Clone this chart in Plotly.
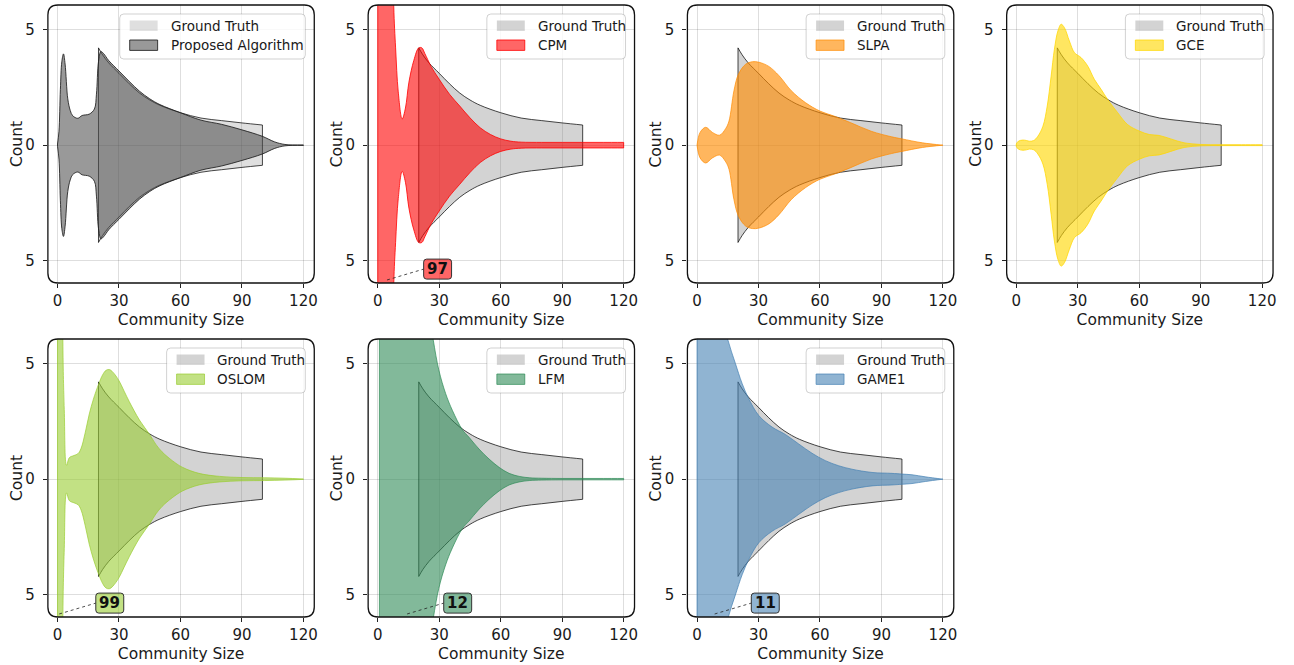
import plotly.graph_objects as go

# ---------------------------------------------------------------------------
# Community-size distributions: violin half-widths (counts) along community size
# ---------------------------------------------------------------------------
gt_x = [20, 22, 25, 30, 35, 40, 45, 50, 60, 70, 80, 90, 100]
gt_w = [4.2, 3.9, 3.55, 3.1, 2.65, 2.25, 1.95, 1.72, 1.4, 1.17, 1.06, 0.96, 0.87]

proposed_x = [0, 0.7, 1.4, 2.1, 2.9, 3.7, 5, 6.2, 7.4, 9.9, 12, 15.5, 18, 19, 20, 21.2,
              22.5, 25, 30, 35, 40, 45, 50, 60, 70, 80, 90, 100, 106, 111, 120]
proposed_w = [0.05, 0.6, 2.4, 3.6, 3.94, 3.5, 2.0, 1.5, 1.27, 1.16, 1.28, 1.34, 1.56, 2.2, 3.6, 4.04,
              3.95, 3.65, 3.2, 2.75, 2.33, 2.0, 1.75, 1.4, 1.08, 0.9, 0.66, 0.38, 0.14, 0.03, 0.01]

cpm_x = [0, 2.2, 4.5, 6.6, 7.8, 8.7, 10, 11.9, 13.5, 15.2, 17.6, 20, 21.5, 23, 26, 30, 35,
         40, 45, 50, 55, 60, 65, 70, 80, 90, 100, 110, 120]
cpm_w = [55, 85, 97, 14, 6.0, 4.2, 2.3, 1.13, 1.6, 2.72, 3.66, 4.2, 4.2, 3.95, 3.4, 2.84, 2.2,
         1.69, 1.18, 0.75, 0.46, 0.27, 0.17, 0.13, 0.12, 0.12, 0.12, 0.12, 0.12]

slpa_x = [0, 1.5, 4.2, 7.5, 11, 14, 15.6, 18, 20.2, 23.7, 27, 30.2, 35, 40, 46, 53, 60, 67,
          75, 85, 95, 100, 110, 120]
slpa_w = [0, 0.55, 0.77, 0.55, 0.43, 0.72, 1.04, 2.34, 3.06, 3.49, 3.6, 3.58, 3.4, 3.0, 2.35,
          1.83, 1.47, 1.25, 0.97, 0.6, 0.36, 0.27, 0.1, 0]

gce_x = [0, 1, 3.2, 5, 6.5, 8.5, 10.5, 13, 15.1, 17, 18.6, 20.3, 21.9, 23.5, 25.9, 28.4, 31.6,
         34.9, 38.1, 41.4, 44.6, 49.5, 54.3, 60, 64.9, 69.7, 75.4, 81.9, 90, 100, 110, 120]
gce_w = [0.05, 0.17, 0.22, 0.2, 0.17, 0.2, 0.38, 0.82, 1.69, 2.98, 4.14, 4.93, 5.22, 5.07, 4.5,
         3.99, 3.78, 3.41, 2.84, 2.41, 1.97, 1.4, 0.89, 0.61, 0.46, 0.42, 0.27, 0.1, 0.03, 0.02,
         0.02, 0.02]

oslom_x = [0, 0.8, 1.8, 2.6, 3.3, 4.4, 5.8, 8, 10, 11.5, 13.5, 15.5, 17.5, 20.1, 22, 23.7,
           25.3, 27, 30, 32.5, 35, 40, 45, 48, 51, 56, 61, 69, 79, 90, 101, 111, 120]
oslom_w = [45, 99, 30, 6.0, 3.0, 0.6, 0.93, 1.02, 1.1, 1.33, 2.0, 2.81, 3.45, 4.11, 4.5, 4.7,
           4.73, 4.62, 4.25, 3.8, 3.35, 2.55, 1.92, 1.5, 1.18, 0.8, 0.51, 0.25, 0.12, 0.07,
           0.06, 0.04, 0.01]

lfm_x = [0.8, 3, 6, 10, 14.3, 18, 22, 25, 27.1, 29.8, 33.1, 36.4, 41.3, 44.5, 49.4, 54.3,
         59.2, 64.1, 69, 73.9, 80, 90, 100, 110, 120]
lfm_w = [6.3, 8.5, 10.5, 11.7, 12, 11.2, 9.0, 7.3, 6.0, 4.71, 3.7, 2.97, 2.13, 1.81, 1.3,
         0.87, 0.51, 0.25, 0.12, 0.06, 0.04, 0.03, 0.03, 0.03, 0.03]

game1_x = [0, 4, 8.6, 10.5, 12.7, 15.1, 18.7, 22, 25.2, 30.1, 36.6, 43.1, 49.6, 56.1, 62.6,
           69.1, 75.6, 85.4, 95.1, 100, 104.9, 111.4, 120]
game1_w = [9.0, 10.5, 11, 9.4, 7.0, 6.0, 5.0, 4.13, 3.48, 2.75, 2.25, 1.93, 1.52, 1.12, 0.8,
           0.58, 0.43, 0.29, 0.25, 0.22, 0.19, 0.1, 0]

algorithm_names = ["Proposed Algorithm", "CPM", "SLPA", "GCE", "OSLOM", "LFM", "GAME1"]
gt_label = "Ground Truth"
x_ticks = [0, 30, 60, 90, 120]
y_ticks = [-5, 0, 5]
y_tick_text = ["5", "0", "5"]
x_title = "Community Size"
y_title = "Count"

# ---------------------------------------------------------------------------
# Styling and layout
# ---------------------------------------------------------------------------
W, H = 1294, 665
FONT = "DejaVu Sans"
TXT = "#1a1a1a"

profiles = [(proposed_x, proposed_w), (cpm_x, cpm_w), (slpa_x, slpa_w), (gce_x, gce_w),
            (oslom_x, oslom_w), (lfm_x, lfm_w), (game1_x, game1_w)]

def rgba(rgb, a):
    return f"rgba({rgb[0]},{rgb[1]},{rgb[2]},{a})"

styles = [
    dict(fill=rgba((80, 80, 80), 0.58), edge=rgba((30, 30, 30), 0.85), gt=rgba((128, 128, 128), 0.25)),
    dict(fill=rgba((255, 0, 0), 0.6), edge=rgba((255, 0, 0), 0.8), gt=rgba((128, 128, 128), 0.35)),
    dict(fill=rgba((255, 140, 0), 0.63), edge=rgba((255, 140, 0), 0.7), gt=rgba((128, 128, 128), 0.35)),
    dict(fill=rgba((255, 215, 0), 0.62), edge=rgba((255, 215, 0), 0.75), gt=rgba((128, 128, 128), 0.35)),
    dict(fill=rgba((154, 205, 50), 0.6), edge=rgba((154, 205, 50), 0.7), gt=rgba((128, 128, 128), 0.35)),
    dict(fill=rgba((46, 139, 87), 0.6), edge=rgba((46, 139, 87), 0.7), gt=rgba((128, 128, 128), 0.35)),
    dict(fill=rgba((70, 130, 180), 0.6), edge=rgba((70, 130, 180), 0.7), gt=rgba((128, 128, 128), 0.35)),
]

col_left = [48, 369, 689, 1009]
row_top = [5, 339]
PW, PH = 267, 278
X_RANGE = [-4.7, 125.3]
Y_RANGE = [-5.95, 6.05]

def panel_box(i):
    r, c = divmod(i, 4)
    return col_left[c], row_top[r], col_left[c] + PW, row_top[r] + PH

def px_x(i, x):
    x0, _, _, _ = panel_box(i)
    return x0 + (x - X_RANGE[0]) / (X_RANGE[1] - X_RANGE[0]) * PW

def px_y(i, y):
    _, y0, _, _ = panel_box(i)
    return y0 + (Y_RANGE[1] - y) / (Y_RANGE[1] - Y_RANGE[0]) * PH

def PX(p):
    return p / W

def PY(p):
    return 1 - p / H

def rounded_path(x0, y0, x1, y1, r):
    return (f"M {PX(x0 + r)},{PY(y0)} L {PX(x1 - r)},{PY(y0)} Q {PX(x1)},{PY(y0)} {PX(x1)},{PY(y0 + r)} "
            f"L {PX(x1)},{PY(y1 - r)} Q {PX(x1)},{PY(y1)} {PX(x1 - r)},{PY(y1)} "
            f"L {PX(x0 + r)},{PY(y1)} Q {PX(x0)},{PY(y1)} {PX(x0)},{PY(y1 - r)} "
            f"L {PX(x0)},{PY(y0 + r)} Q {PX(x0)},{PY(y0)} {PX(x0 + r)},{PY(y0)} Z")

fig = go.Figure()
shapes = []
annotations = []
layout_axes = {}

def add_violin(xs, ws, n, fill, edge, lw):
    ax = dict(xaxis=f"x{n}", yaxis=f"y{n}", hoverinfo="skip", showlegend=False)
    fig.add_trace(go.Scatter(x=xs, y=[-w for w in ws], mode="lines",
                             line=dict(shape="spline", color=edge, width=lw), **ax))
    fig.add_trace(go.Scatter(x=xs, y=ws, mode="lines", fill="tonexty", fillcolor=fill,
                             line=dict(shape="spline", color=edge, width=lw), **ax))
    fig.add_trace(go.Scatter(x=[xs[0], xs[0], None, xs[-1], xs[-1]],
                             y=[-ws[0], ws[0], None, -ws[-1], ws[-1]], mode="lines",
                             line=dict(color=edge, width=lw), **ax))

for i, (name, (xs, ws), st) in enumerate(zip(algorithm_names, profiles, styles)):
    n = i + 1
    x0, y0, x1, y1 = panel_box(i)

    add_violin(gt_x, gt_w, n, st["gt"], "rgba(0,0,0,0.9)", 0.8)
    add_violin(xs, ws, n, st["fill"], st["edge"], 1.0)

    common = dict(showgrid=True, gridcolor="rgba(0,0,0,0.13)", gridwidth=1, zeroline=False,
                  showline=False, ticks="outside", ticklen=4, tickwidth=1, tickcolor="#222",
                  tickfont=dict(family=FONT, size=15, color=TXT), fixedrange=True)
    layout_axes[f"xaxis{n}"] = dict(
        domain=[PX(x0), PX(x1)], anchor=f"y{n}", range=X_RANGE, tickvals=x_ticks,
        title=dict(text=x_title, font=dict(family=FONT, size=15.5, color=TXT), standoff=5),
        ticklabelstandoff=0, **common)
    layout_axes[f"yaxis{n}"] = dict(
        domain=[PY(y1), PY(y0)], anchor=f"x{n}", range=Y_RANGE, tickvals=y_ticks,
        ticktext=y_tick_text, ticklabelstandoff=5, **common)

    # y-axis title, placed just left of the tick labels
    annotations.append(dict(xref="paper", yref="paper", x=PX(x0 - 31), y=PY((y0 + y1) / 2),
                            xanchor="center", yanchor="middle", showarrow=False, textangle=-90,
                            text=y_title, font=dict(family=FONT, size=15.5, color=TXT)))

    # rounded axes frame
    shapes.append(dict(type="path", xref="paper", yref="paper", layer="above",
                       path=rounded_path(x0, y0, x1, y1, 10),
                       line=dict(color="#111", width=1.3), fillcolor="rgba(0,0,0,0)"))

    # legend box
    lw_box = 186 if i == 0 else 139
    lx1, ly0 = x1 - 9, y0 + 9
    lx0, ly1 = lx1 - lw_box, ly0 + 45
    shapes.append(dict(type="path", xref="paper", yref="paper", layer="above",
                       path=rounded_path(lx0, ly0, lx1, ly1, 4),
                       line=dict(color="rgba(0,0,0,0.18)", width=1),
                       fillcolor="rgba(255,255,255,0.8)"))
    for k, (lab, fcol, ecol) in enumerate([(gt_label, st["gt"], "rgba(0,0,0,0)"),
                                           (name, st["fill"], st["edge"])]):
        cy = ly0 + 11.7 + 19.5 * k
        shapes.append(dict(type="rect", xref="paper", yref="paper", layer="above",
                           x0=PX(lx0 + 10), x1=PX(lx0 + 38), y0=PY(cy - 5.2), y1=PY(cy + 5.2),
                           fillcolor=fcol, line=dict(color=ecol, width=1)))
        annotations.append(dict(xref="paper", yref="paper", x=PX(lx0 + 49), y=PY(cy),
                                xanchor="left", yanchor="middle", showarrow=False, text=lab,
                                font=dict(family=FONT, size=13.5, color=TXT)))

    # peak callout for distributions that run past the top of the axes
    peak = max(ws)
    if peak > Y_RANGE[1]:
        px_peak = xs[ws.index(peak)]
        cx_d, cy_d = px_peak + 24.7, -5.35
        cxp, cyp = px_x(i, cx_d), px_y(i, cy_d)
        bw, bh = 28, 20
        shapes.append(dict(type="line", xref="paper", yref="paper", layer="above",
                           x0=PX(px_x(i, px_peak)), y0=PY(px_y(i, -5.82)),
                           x1=PX(cxp - bw / 2), y1=PY(cyp),
                           line=dict(color="#222", width=0.8, dash="dot")))
        shapes.append(dict(type="path", xref="paper", yref="paper", layer="above",
                           path=rounded_path(cxp - bw / 2, cyp - bh / 2, cxp + bw / 2, cyp + bh / 2, 3),
                           line=dict(color="#333", width=1), fillcolor=st["fill"]))
        annotations.append(dict(xref="paper", yref="paper", x=PX(cxp), y=PY(cyp),
                                xanchor="center", yanchor="middle", showarrow=False,
                                text=f"<b>{peak:.0f}</b>",
                                font=dict(family=FONT, size=15, color="#111")))

fig.update_layout(
    width=W, height=H, margin=dict(l=0, r=0, t=0, b=0),
    paper_bgcolor="white", plot_bgcolor="white", showlegend=False,
    shapes=shapes, annotations=annotations, **layout_axes)

fig.write_html("out.html")
